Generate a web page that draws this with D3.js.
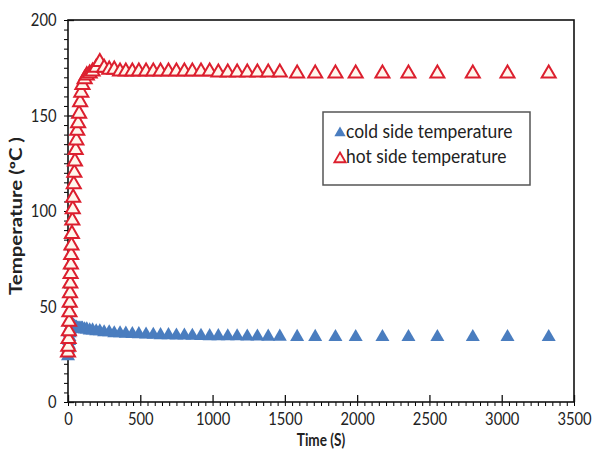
<!DOCTYPE html>
<html>
<head>
<meta charset="utf-8">
<script src="https://cdn.jsdelivr.net/npm/d3@7"></script>
<style>
  body { margin: 0; background: #fff; }
  text { font-family: Lato, "Open Sans", sans-serif; fill: #222; }
</style>
</head>
<body>
<div id="chart"></div>
<script>
// time (s) of each sample
let timeS = [0, 2, 4, 6, 8, 10, 12, 14, 16, 18, 20, 22, 24, 27, 30, 33, 36, 40, 44, 48,
    53, 58, 64, 70, 77, 84, 92, 100, 115, 130, 150, 170, 195, 220, 250, 285, 320, 360,
    400, 445, 490, 540, 590, 640, 695, 750, 805, 860, 920, 980, 1040, 1105, 1170, 1240,
    1310, 1385, 1465, 1585, 1710, 1850, 1990, 2175, 2355, 2555, 2800, 3040, 3325];
let hotSide = [26, 29, 33, 37, 42, 47, 52, 57, 62, 67, 72, 77, 82, 88, 95, 101, 107, 114, 120, 126,
    132, 137, 142, 146, 151, 157, 162, 166, 169, 171, 172, 173, 175, 178, 175, 174, 174, 173,
    173, 173, 173, 173, 173, 173, 173, 173, 173, 173, 173, 173, 172.5, 172.5, 172.5, 172.5,
    172.5, 172.5, 172.5, 172, 172, 172, 172, 172, 172, 172, 172, 172, 172];
let coldSide = [24, 26, 28, 30, 32, 34, 36, 37, 38, 39, 39.5, 40, 40.5, 40.5, 40.5, 40, 40, 39.5, 39.5, 39,
    39, 39, 38.5, 38.5, 38.5, 38.5, 38.5, 38.5, 38, 38, 37.5, 37.5, 37, 37, 36.5, 36.5, 36, 36,
    35.8, 35.6, 35.5, 35.3, 35.2, 35, 35, 34.8, 34.8, 34.7, 34.6, 34.5, 34.5, 34.4, 34.4, 34.3,
    34.3, 34.2, 34.2, 34.1, 34.1, 34, 34, 34, 34, 34, 34, 34, 34];
let xTicks = [0, 500, 1000, 1500, 2000, 2500, 3000, 3500];
let yTicks = [0, 50, 100, 150, 200];
let seriesNames = ["cold side temperature", "hot side temperature"];

const width = 595, height = 468;
const margin = {left: 68, right: 21, top: 20, bottom: 66};

let svg = d3.select("#chart").append("svg")
    .attr("width", width)
    .attr("height", height);

let x = d3.scaleLinear().domain([0, 3500]).range([margin.left, width - margin.right]);
let y = d3.scaleLinear().domain([0, 200]).range([height - margin.bottom, margin.top]);

// minor ticks (outside)
svg.append("g")
    .attr("transform", `translate(0, ${y(0)})`)
    .call(d3.axisBottom(x).tickValues(d3.range(0, 3501, 50)).tickSize(4).tickFormat(""))
    .call(g => g.select(".domain").remove());
svg.append("g")
    .attr("transform", `translate(${x(0)}, 0)`)
    .call(d3.axisLeft(y).tickValues(d3.range(0, 201, 5)).tickSize(4).tickFormat(""))
    .call(g => g.select(".domain").remove());

// major ticks (inside) + labels
let xAxis = svg.append("g")
    .attr("transform", `translate(0, ${y(0)})`)
    .call(d3.axisBottom(x).tickValues(xTicks).tickFormat(d3.format("d"))
        .tickSizeInner(-7).tickSizeOuter(0).tickPadding(10));
let yAxis = svg.append("g")
    .attr("transform", `translate(${x(0)}, 0)`)
    .call(d3.axisLeft(y).tickValues(yTicks).tickSizeInner(-6).tickSizeOuter(0).tickPadding(14));
[xAxis, yAxis].forEach(g => {
    g.selectAll("text").style("font-size", "18px").attr("fill", "#222")
        .attr("transform", "scale(0.82,1)");
    g.selectAll("line").attr("stroke", "#111").attr("stroke-width", 1.3);
    g.select(".domain").remove();
});

// plot frame
svg.append("rect")
    .attr("x", x(0))
    .attr("y", y(200))
    .attr("width", x(3500) - x(0))
    .attr("height", y(0) - y(200))
    .attr("fill", "none")
    .attr("stroke", "#111")
    .attr("stroke-width", 1.6);

let tri = d3.symbol().type(d3.symbolTriangle).size(85);

let pts = timeS.map((t, i) => ({t: t, hot: hotSide[i], cold: coldSide[i]}));

svg.append("g").selectAll("path")
    .data(pts)
    .enter().append("path")
    .attr("d", tri)
    .attr("transform", d => `translate(${x(d.t)}, ${y(d.cold)})`)
    .attr("fill", "#4a7dbf");

svg.append("g").selectAll("path")
    .data(pts)
    .enter().append("path")
    .attr("d", tri)
    .attr("transform", d => `translate(${x(d.t)}, ${y(d.hot)})`)
    .attr("fill", "#fff6ec")
    .attr("stroke", "#dc1f2e")
    .attr("stroke-width", 2);

// axis titles
svg.append("text")
    .attr("transform", `translate(${(x(0) + x(3500)) / 2}, 446) scale(0.8,1)`)
    .style("text-anchor", "middle")
    .style("font-size", "17px")
    .style("font-weight", "bold")
    .text("Time (S)");

svg.append("text")
    .attr("transform", `translate(22, ${(y(0) + y(200)) / 2 + 5}) rotate(-90) scale(1.2,1)`)
    .style("text-anchor", "middle")
    .style("font-size", "17px")
    .style("font-weight", "bold")
    .text("Temperature (ºC )");

// legend
let legend = svg.append("g");
legend.append("rect")
    .attr("x", 323).attr("y", 112)
    .attr("width", 207).attr("height", 73)
    .attr("fill", "#fff")
    .attr("stroke", "#555")
    .attr("stroke-width", 1.5);
let legTri = d3.symbol().type(d3.symbolTriangle).size(55);
legend.append("path")
    .attr("d", legTri)
    .attr("transform", "translate(340, 133)")
    .attr("fill", "#4a7dbf");
legend.append("path")
    .attr("d", legTri)
    .attr("transform", "translate(340, 159)")
    .attr("fill", "#fff6ec")
    .attr("stroke", "#dc1f2e")
    .attr("stroke-width", 1.8);
legend.selectAll("text.lg")
    .data(seriesNames)
    .enter().append("text")
    .attr("class", "lg")
    .attr("transform", (d, i) => `translate(346, ${138 + i * 25}) scale(0.92,1)`)
    .style("font-size", "19px")
    .text(d => d);
</script>
</body>
</html>
